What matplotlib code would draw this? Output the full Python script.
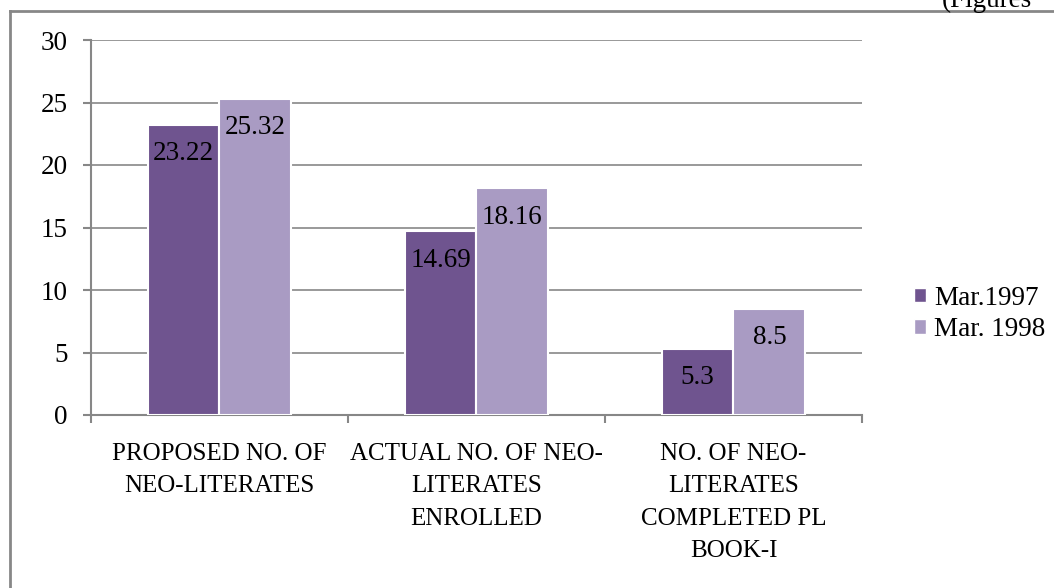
import matplotlib
matplotlib.use("Agg")
import matplotlib.pyplot as plt
import numpy as np
from matplotlib.patches import Patch
from matplotlib.lines import Line2D

categories = ["PROPOSED NO. OF\nNEO-LITERATES",
              "ACTUAL NO. OF NEO-\nLITERATES\nENROLLED",
              "NO. OF NEO-\nLITERATES\nCOMPLETED PL\nBOOK-I"]
series_names = ["Mar.1997", "Mar. 1998"]
mar1997 = [23.22, 14.69, 5.3]
mar1998 = [25.32, 18.16, 8.5]
value_labels_1997 = ["23.22", "14.69", "5.3"]
value_labels_1998 = ["25.32", "18.16", "8.5"]
yticks = [0, 5, 10, 15, 20, 25, 30]

plt.rcParams['font.family'] = ['Liberation Serif', 'DejaVu Serif']
FS = 19.5
FS_CAT = 18
dark = "#6F548F"
light = "#A99BC3"
gray = "#878787"

W, H = 1054, 588
fig = plt.figure(figsize=(W/100, H/100), dpi=100)
ax = fig.add_axes([91/W, 1-415/H, (862-91)/W, (415-40)/H])

x = np.arange(len(categories))
bw = 0.28
b1 = ax.bar(x - bw/2, mar1997, bw, color=dark, edgecolor="white", linewidth=1.5, zorder=3)
b2 = ax.bar(x + bw/2, mar1998, bw, color=light, edgecolor="white", linewidth=1.5, zorder=3)

for rects, labs in ((b1, value_labels_1997), (b2, value_labels_1998)):
    for r, lab in zip(rects, labs):
        ax.annotate(lab, (r.get_x() + r.get_width()/2, r.get_height()),
                    xytext=(0, -12), textcoords="offset points",
                    ha="center", va="top", fontsize=FS, color="black", zorder=4)

ax.set_xlim(-0.5, 2.5)
ax.set_ylim(0, 30)
ax.set_yticks(yticks)
ax.set_yticklabels([str(t) for t in yticks])
ax.yaxis.grid(True, color=gray, linewidth=1.2, zorder=0)
ax.set_axisbelow(True)

ax.set_xticks(x)
ax.set_xticklabels(categories, fontsize=FS_CAT, linespacing=1.62)
ax.set_xticks([-0.5, 0.5, 1.5, 2.5], minor=True)
ax.tick_params(axis="x", which="major", length=0, pad=20)
ax.tick_params(axis="x", which="minor", length=6, width=1.5, color=gray, direction="out")
ax.tick_params(axis="y", length=6, width=1.5, color=gray, direction="out", pad=11, labelsize=FS)

for s in ("top", "right"):
    ax.spines[s].set_visible(False)
for s in ("left", "bottom"):
    ax.spines[s].set_color(gray)
    ax.spines[s].set_linewidth(1.5)

handles = [Patch(facecolor=dark, edgecolor="white"), Patch(facecolor=light, edgecolor="white")]
leg = fig.legend(handles, series_names, loc="center left",
                 bbox_to_anchor=(903/W, 1-314/H), frameon=False, fontsize=FS,
                 handlelength=0.45, handleheight=0.45, handletextpad=0.3,
                 labelspacing=0.25, borderaxespad=0)

# outer frame (left and top border of the chart area)
fig.add_artist(Line2D([9.5/W, 9.5/W], [0, 1-10.5/H], transform=fig.transFigure,
                      color=gray, linewidth=2))
fig.add_artist(Line2D([9.5/W, 1.0], [1-10.5/H, 1-10.5/H], transform=fig.transFigure,
                      color=gray, linewidth=2))
fig.text(942/W, 1-7/H, "(Figures", fontsize=FS, va="baseline", ha="left")

fig.savefig("out.png", dpi=100, facecolor="white")
